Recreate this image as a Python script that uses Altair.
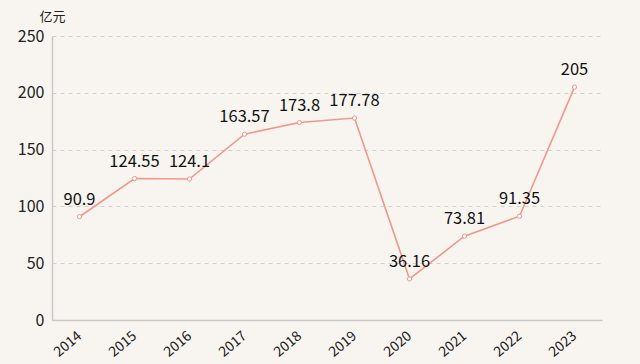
import altair as alt
import pandas as pd

years = ["2014", "2015", "2016", "2017", "2018", "2019", "2020", "2021", "2022", "2023"]
values = [90.9, 124.55, 124.1, 163.57, 173.8, 177.78, 36.16, 73.81, 91.35, 205]
labels = ["90.9", "124.55", "124.1", "163.57", "173.8", "177.78", "36.16", "73.81", "91.35", "205"]

df = pd.DataFrame({"year": years, "value": values, "label": labels})

FONT = "Noto Sans CJK SC"
LINE = "#f4968c"

x = alt.X("year:O", scale=alt.Scale(paddingOuter=0.5),
          axis=alt.Axis(title=None, labelAngle=-40, labelAlign="right", labelBaseline="middle",
                        labelPadding=14, ticks=False, domainColor="#c8c8c8", domainWidth=1.5,
                        labelFontSize=14, labelColor="#222", labelFont=FONT, grid=False))
y = alt.Y("value:Q", scale=alt.Scale(domain=[0, 250], nice=False, zero=True),
          axis=alt.Axis(title="亿元", titleAngle=0, titleX=0, titleY=-16, titleAlign="center",
                        titleBaseline="alphabetic", titleFontSize=13, titleFontWeight="normal",
                        titleFont=FONT, titleColor="#222",
                        values=[0, 50, 100, 150, 200, 250], ticks=False,
                        labelPadding=8, labelFontSize=16, labelColor="#222", labelFont=FONT,
                        domainColor="#c8c8c8", domainWidth=1.5,
                        grid=True, gridDash=[4, 4], gridColor="#d0d0d0", gridWidth=1))

base = alt.Chart(df).encode(x=x, y=y)
line = base.mark_line(color=LINE, strokeWidth=1.6)
pts = base.mark_point(shape="circle", size=18, filled=True, fill="white", stroke=LINE,
                      strokeWidth=1, opacity=1)
txt = base.mark_text(dy=-17, fontSize=16.5, font=FONT, color="#111").encode(text="label:N")

chart = (line + pts + txt).properties(
    width=550, height=284,
    autosize=alt.AutoSizeParams(type="none"),
    padding={"left": 52, "top": 36, "right": 38, "bottom": 44},
    background="#f8f5f0",
).configure_view(stroke=None)

chart.save("out.html", embed_options={"renderer": "svg", "actions": False})
